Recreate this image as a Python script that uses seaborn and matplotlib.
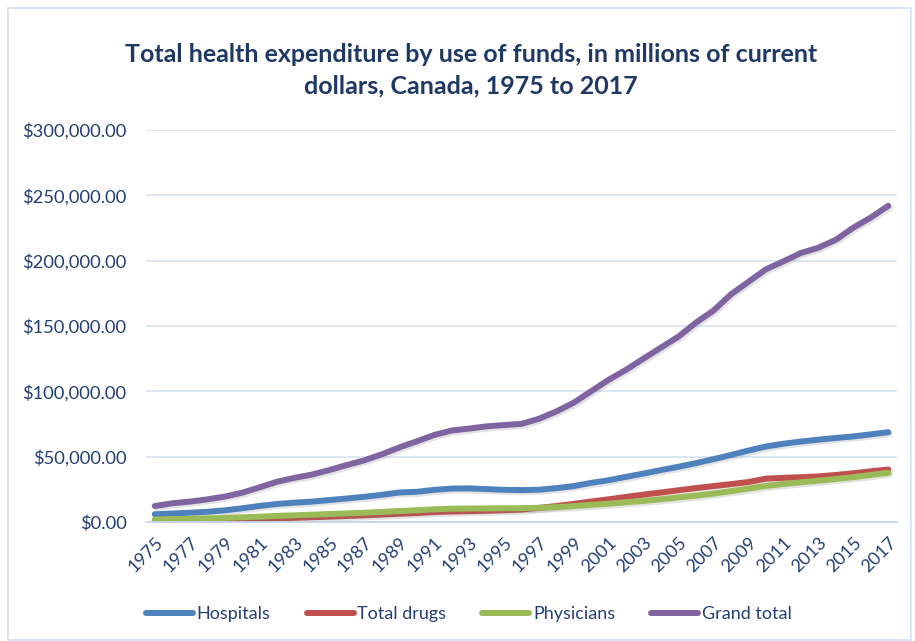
import matplotlib
matplotlib.use("Agg")
import matplotlib.pyplot as plt
import matplotlib.patheffects as pe
from matplotlib.lines import Line2D
from matplotlib.patches import Rectangle
from matplotlib.ticker import FuncFormatter, FixedLocator
import numpy as np
import pandas as pd
import seaborn as sns

# Total health expenditure, millions of current dollars
years = list(range(1975, 2018))
hospitals = [5900, 6500, 7100, 7800, 8900, 10500, 12300, 13800, 14800, 15600,
             16800, 18000, 19300, 20800, 22600, 23100, 24600, 25600, 25700, 25200,
             24600, 24400, 24700, 25900, 27500, 30000, 32000, 34600, 37100, 39800,
             42300, 45100, 48100, 51300, 54700, 57800, 59900, 61600, 63000, 64300,
             65500, 67100, 68700]
total_drugs = [1100, 1200, 1350, 1500, 1700, 2000, 2400, 2800, 3200, 3600,
               4100, 4600, 5100, 5700, 6300, 6800, 7600, 8000, 8300, 8600,
               9000, 9500, 10800, 12200, 13900, 15700, 17400, 19200, 21000, 22600,
               24300, 26000, 27500, 29000, 30600, 33200, 33800, 34300, 34900, 36000,
               37300, 38800, 40200]
physicians = [1900, 2200, 2500, 2800, 3100, 3600, 4100, 4700, 5100, 5600,
              6100, 6600, 7100, 7700, 8400, 9000, 9700, 10200, 10300, 10400,
              10500, 10600, 10900, 11400, 12200, 13100, 14000, 15100, 16200, 17400,
              18800, 20200, 21700, 23600, 25600, 27600, 29100, 30400, 31600, 32900,
              34300, 36000, 37700]
grand_total = [12200, 14300, 15600, 17300, 19400, 22400, 26500, 30800, 33800, 36300,
               39800, 43600, 47200, 51800, 57100, 61700, 66600, 70000, 71500, 73200,
               74200, 75100, 79000, 84600, 91400, 100200, 108900, 116600, 125200, 133600,
               142000, 152700, 161900, 174300, 183900, 193400, 199500, 205900, 209900, 216000,
               225300, 233000, 242000]

series_names = ["Hospitals", "Total drugs", "Physicians", "Grand total"]
series_values = [hospitals, total_drugs, physicians, grand_total]
colors = ["#4F81BD", "#C0504D", "#9BBB59", "#8064A2"]

title = "Total health expenditure by use of funds, in millions of current\ndollars, Canada, 1975 to 2017"

df = pd.DataFrame({
    "Year": np.tile(years, len(series_names)),
    "Series": np.repeat(series_names, len(years)),
    "Value": np.concatenate(series_values),
})

sns.set_theme(style="white")
plt.rcParams["font.family"] = ["Lato", "DejaVu Sans"]

text_color = "#243F73"
grid_color = "#D9E3F1"
axis_color = "#C6D5EC"

fig = plt.figure(figsize=(9.15, 6.41), dpi=100)
ax = fig.add_axes([146 / 915, 1 - 522 / 641, 751 / 915, 392 / 641])

sns.lineplot(data=df, x="Year", y="Value", hue="Series", hue_order=series_names,
             palette=dict(zip(series_names, colors)), linewidth=4.3,
             solid_capstyle="round", solid_joinstyle="round", legend=False, ax=ax,
             path_effects=[pe.SimpleLineShadow(offset=(1.2, -1.5), shadow_color="#777777", alpha=0.2),
                           pe.Normal()])

ax.set_xlim(1974.5, 2017.5)
ax.set_ylim(0, 300000)
ax.set_yticks(np.arange(0, 300001, 50000))
ax.yaxis.set_major_formatter(FuncFormatter(lambda v, p: f"${v:,.2f}"))
ax.grid(axis="y", color=grid_color, linewidth=1.2)
ax.set_axisbelow(True)

ax.set_xticks(years[::2])
ax.set_xticklabels([str(y) for y in years[::2]], rotation=45, ha="right",
                   va="top", rotation_mode="anchor")
ax.xaxis.set_minor_locator(FixedLocator(np.arange(1974.5, 2018, 1.0)))
ax.tick_params(axis="x", which="major", length=0, pad=9, labelsize=13, labelcolor=text_color)
ax.tick_params(axis="x", which="minor", length=5, width=1.2, color=axis_color, direction="out")
ax.tick_params(axis="y", length=0, pad=14, labelsize=13.2, labelcolor=text_color)
ax.set_xlabel("")
ax.set_ylabel("")

for s in ["top", "right", "left"]:
    ax.spines[s].set_visible(False)
ax.spines["bottom"].set_color(axis_color)
ax.spines["bottom"].set_linewidth(1.3)

fig.text(471 / 915, 1 - 70 / 641, title, ha="center", va="center",
         fontsize=18, fontweight="bold", color="#1F3864", linespacing=1.45)

handles = [Line2D([0], [0], color=c, linewidth=4.3, solid_capstyle="round")
           for c in colors]
fig.legend(handles, series_names, loc="center", ncol=4,
           bbox_to_anchor=(469 / 915, 1 - 614 / 641), frameon=False,
           fontsize=13, labelcolor=text_color, handlelength=2.6,
           handletextpad=0.2, columnspacing=2.0)

fig.patches.append(Rectangle((8 / 915, 1 / 641), 903 / 915, 632 / 641,
                             transform=fig.transFigure, fill=False,
                             edgecolor="#D5E0F0", linewidth=1.2))

fig.savefig("out.png", dpi=100)
